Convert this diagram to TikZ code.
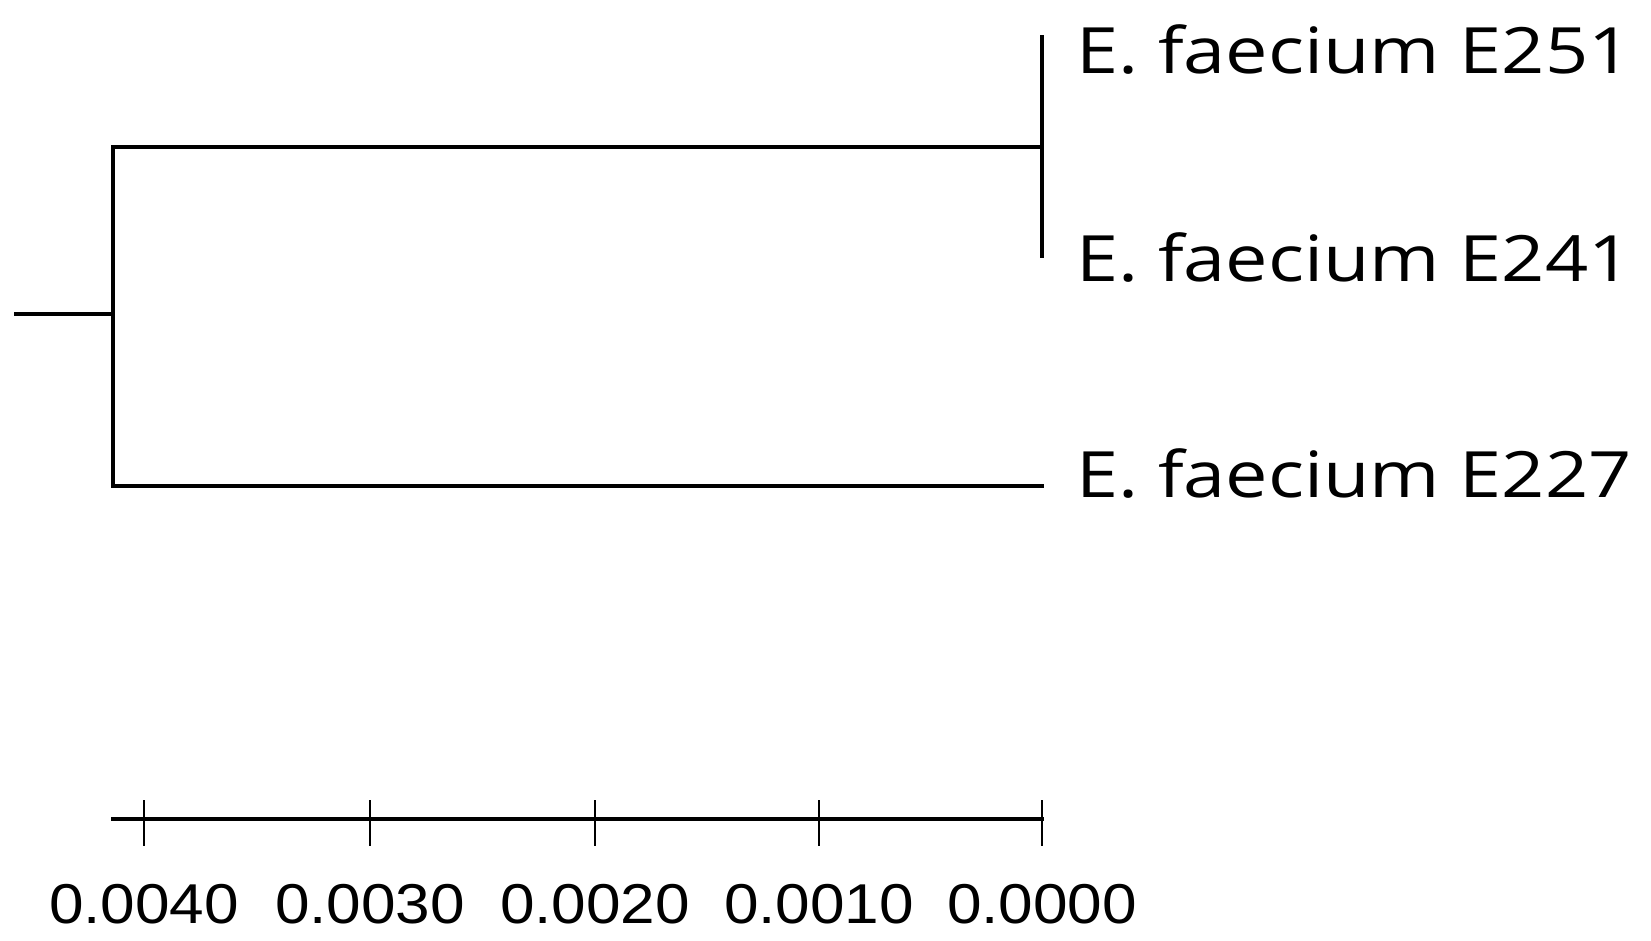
\documentclass[tikz,border=0pt]{standalone}
\usepackage{fontspec}
\setmainfont{Open Sans}
\newfontfamily\numfont{Liberation Sans}
\newcommand{\leaftext}[1]{\scalebox{1.22}[1.03]{#1}}
\newcommand{\numtext}[1]{\scalebox{1.15}[1.04]{#1}}
\begin{document}
\begin{tikzpicture}[x=0.5pt,y=-0.5pt,
  branch/.style={line width=1.6pt, line cap=rect},
  leaf/.style={anchor=west, inner sep=0pt, font=\fontsize{31}{31}\selectfont},
  ticklab/.style={anchor=center, inner sep=0pt, font=\numfont\fontsize{27}{27}\selectfont}]
\useasboundingbox (0,0) rectangle (1651,941);
% tree
\coordinate (root) at (16,314);
\coordinate (n1) at (113,314);
\coordinate (n1t) at (113,147);
\coordinate (n1b) at (113,486);
\coordinate (n2) at (1042,147);
\coordinate (n2t) at (1042,37);
\coordinate (n2b) at (1042,256);
\coordinate (l3) at (1042,486);
\draw[branch] (root) -- (n1);
\draw[branch] (n1t) -- (n1b);
\draw[branch] (n1t) -- (n2);
\draw[branch] (n1b) -- (l3);
\draw[branch] (n2t) -- (n2b);
\node[leaf] (a) at (1076,50) {\leaftext{E. faecium E251}};
\node[leaf] (b) at (1076,258) {\leaftext{E. faecium E241}};
\node[leaf] (c) at (1076,474) {\leaftext{E. faecium E227}};
% scale bar
\coordinate (s0) at (113,819);
\coordinate (s1) at (1042,819);
\draw[branch] (s0) -- (s1);
\foreach \x/\lab [count=\i] in {144/0.0040, 370/0.0030, 595/0.0020, 819/0.0010, 1042/0.0000}{
  \coordinate (t\i) at (\x,800);
  \coordinate (u\i) at (\x,846);
  \draw[line width=1.2pt] (t\i) -- (u\i);
  \node[ticklab] (lab\i) at (\x,904) {\numtext{\lab}};
}
\end{tikzpicture}
\end{document}
